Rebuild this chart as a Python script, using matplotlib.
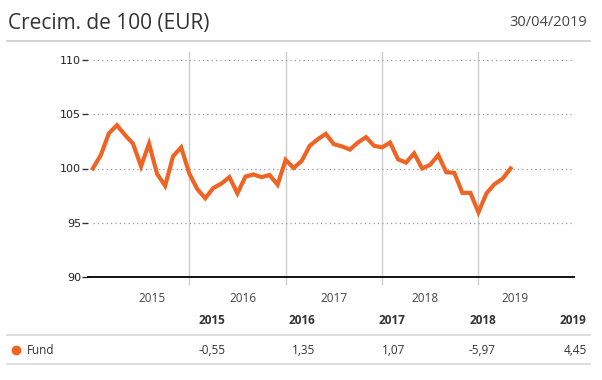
import numpy as np
import matplotlib
matplotlib.use("Agg")
import matplotlib.pyplot as plt

# month-end values of the growth of 100, Dec 2014 .. Apr 2019
values = [100.0, 101.25, 103.25, 104.0, 103.1, 102.3, 100.2, 102.3, 99.5, 98.4,
          101.15, 101.95, 99.55, 98.1, 97.25, 98.2, 98.6, 99.2, 97.7, 99.25,
          99.45, 99.2, 99.4, 98.5, 100.8, 100.05, 100.7, 102.1, 102.7, 103.2,
          102.25, 102.05, 101.75, 102.4, 102.9, 102.1, 101.95, 102.4, 100.85, 100.55,
          101.4, 100.0, 100.35, 101.25, 99.65, 99.6, 97.75, 97.75, 95.95, 97.7,
          98.55, 99.05, 100.0]
months = np.arange(len(values))
year_ends = [12, 24, 36, 48]
year_labels = ["2015", "2016", "2017", "2018", "2019"]
year_label_pos = [7.36, 18.7, 30.0, 41.4, 52.6]
y_ticks = [90, 95, 100, 105, 110]

table_years = ["2015", "2016", "2017", "2018", "2019"]
table_values = ["-0,55", "1,35", "1,07", "-5,97", "4,45"]
series_name = "Fund"

W, H = 602, 380
ORANGE = "#ef6424"
GREY_TXT = "#444444"


def fx(px):
    return px / W


def fy(py):
    return 1 - py / H


fig = plt.figure(figsize=(W / 100, H / 100), dpi=100)
fig.patch.set_facecolor("white")

# header ------------------------------------------------------
fig.text(fx(8), fy(23), "Crecim. de 100 (EUR)", family="Open Sans", fontsize=15,
         color="#333333", va="center", ha="left")
fig.text(fx(587), fy(22), "30/04/2019", family="Open Sans", fontsize=10.5,
         color=GREY_TXT, va="center", ha="right")
fig.add_artist(plt.Line2D([fx(7), fx(590)], [fy(41), fy(41)], color="#cccccc", lw=1.2))

# chart -------------------------------------------------------
top, bot = 60.3, 276.7
ax = fig.add_axes([fx(88), fy(bot), fx(574) - fx(88), (bot - top) / H])
ax.set_xlim(-0.6, 59.9)
ax.set_ylim(90, 110)

for v in y_ticks[1:]:
    ax.hlines(v, 0, 59.9, colors="#999999", linestyles=(0, (1, 2.5)), lw=0.9)
ext_top = (bot - 51.7) / (bot - top)
ext_bot = -(284 - bot) / (bot - top)
for m in year_ends:
    ax.axvline(m, ymin=ext_bot, ymax=ext_top, color="#cccccc", lw=1, clip_on=False, zorder=1)

ax.plot(months, values, color=ORANGE, lw=3, solid_joinstyle="miter", zorder=3)

for s in ["top", "right", "left"]:
    ax.spines[s].set_visible(False)
ax.spines["bottom"].set_color("black")
ax.spines["bottom"].set_linewidth(1.3)

ax.set_yticks(y_ticks)
ax.set_yticklabels([str(t) for t in y_ticks], family="DejaVu Sans", fontsize=8, color="#222222")
ax.tick_params(axis="y", length=4, width=1, color="#333333", pad=1)

ax.set_xticks(year_label_pos)
ax.set_xticklabels(year_labels, family="Open Sans", fontsize=8.5, color=GREY_TXT)
ax.tick_params(axis="x", length=0, pad=11)

# table -------------------------------------------------------
col_right = [225.5, 315.5, 405.5, 496, 586.5]
for px, yr, val in zip(col_right, table_years, table_values):
    fig.text(fx(px), fy(321), yr, family="Open Sans", fontsize=8.5, fontweight="bold",
             color="#333333", ha="right", va="center")
    fig.text(fx(px), fy(350), val, family="Open Sans", fontsize=8.5,
             color="#333333", ha="right", va="center")
fig.add_artist(plt.Line2D([fx(7), fx(590)], [fy(335), fy(335)], color="#d9d9d9", lw=1.2))
fig.add_artist(plt.Line2D([fx(7), fx(590)], [fy(364), fy(364)], color="#d9d9d9", lw=1.2))
fig.add_artist(plt.Line2D([fx(15.7)], [fy(350)], marker="o", markersize=6,
                          color=ORANGE, lw=0))
fig.text(fx(27), fy(350), series_name, family="Open Sans", fontsize=8.5,
         color="#333333", ha="left", va="center")

fig.savefig("out.png", dpi=100)
